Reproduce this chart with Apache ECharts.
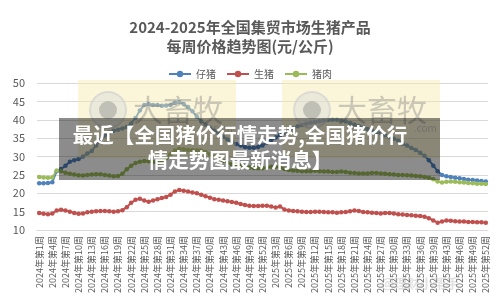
<!DOCTYPE html>
<html><head><meta charset="utf-8">
<script src="https://cdn.jsdelivr.net/npm/echarts@6/dist/echarts.min.js"></script>
<style>html,body{margin:0;padding:0;background:#fff}#c{width:500px;height:300px}</style>
</head><body><div id="c"></div>
<script>
const weeks2024 = [1,2,3,4,5,6,7,8,9,10,11,12,13,14,15,16,17,18,19,20,21,22,23,24,25,26,27,28,29,30,31,32,33,34,35,36,37,38,39,40,41,42,43,44,45,46,47,48,49,50,51,52];
const weeks2025 = [1,2,3,4,5,6,7,8,9,10,11,12,13,14,15,16,17,18,19,20,21,22,23,24,25,26,27,28,29,30,31,32,33,34,35,36,37,38,39,41,42,43,44,45,46,47,48,49,50,51,52];
const seriesNames = ['仔猪','生猪','猪肉'];
const piglet = [22.7,22.7,22.8,23.0,26.0,26.6,27.5,28.6,29.0,29.3,30.0,30.8,31.5,33.0,34.5,35.7,36.5,37.0,37.3,37.6,38.0,39.0,40.5,42.5,44.0,44.3,44.0,44.0,43.8,43.9,44.0,44.6,44.8,44.3,43.5,42.3,40.8,39.6,38.7,37.8,37.0,36.2,35.4,34.6,34.0,33.4,33.0,32.6,32.4,32.4,32.6,33.0,33.8,34.5,35.2,35.8,36.4,37.0,37.6,38.2,38.6,38.9,39.2,39.4,39.6,39.8,39.9,40.0,40.0,39.8,39.5,39.1,38.7,38.3,37.9,37.5,37.1,36.7,36.3,35.8,35.3,34.8,34.3,33.5,33.0,32.3,31.8,31.0,30.2,29.0,27.5,26.0,25.0,24.6,24.4,24.2,24.1,23.9,23.7,23.6,23.5,23.3,23.2];
const hog = [14.6,14.4,14.3,14.5,15.3,15.5,15.3,15.0,14.6,14.4,14.5,14.8,15.0,15.1,15.2,15.2,15.1,15.0,15.1,15.4,16.2,17.4,18.2,18.5,18.0,17.7,18.0,18.4,18.7,19.0,19.6,20.5,20.9,20.7,20.5,20.2,20.0,19.6,19.2,18.8,18.4,18.2,18.0,17.8,17.6,17.4,17.1,16.8,16.6,16.5,16.5,16.6,16.6,16.4,16.1,16.4,15.6,15.3,15.2,15.1,15.0,14.9,14.9,15.0,15.0,14.9,14.8,14.8,14.7,14.8,14.9,15.1,15.3,15.2,14.9,14.8,14.7,14.6,14.5,14.6,14.6,14.5,14.3,14.2,14.1,14.0,13.9,13.8,13.6,13.2,12.6,12.0,12.3,12.6,12.5,12.4,12.3,12.3,12.2,12.2,12.1,12.1,12.0];
const pork = [24.4,24.3,24.2,24.3,26.2,26.0,25.6,25.3,25.1,24.9,24.8,25.0,25.1,25.2,25.2,25.0,24.8,24.6,24.7,25.3,26.5,27.5,28.2,28.6,28.8,28.7,28.5,28.3,28.6,29.5,30.6,31.6,32.1,32.0,31.8,31.8,31.7,31.6,31.2,30.6,30.0,29.4,28.8,28.3,27.9,27.6,27.4,27.2,27.0,26.9,26.8,26.8,27.0,27.2,27.2,27.0,26.6,26.3,26.2,26.1,26.0,26.0,26.0,26.1,26.0,25.9,25.9,25.8,25.8,25.9,25.8,25.6,25.5,25.4,25.4,25.4,25.5,25.5,25.4,25.3,25.2,25.1,25.0,25.0,24.9,24.8,24.7,24.6,24.4,24.2,23.8,23.2,22.9,23.1,23.2,23.1,23.0,22.9,22.8,22.7,22.6,22.6,22.5];
const yTicks = {min:10, max:50, interval:5};
const titleText = '2024-2025年全国集贸市场生猪产品\n每周价格趋势图(元/公斤)';
const bannerLines = ['最近【全国猪价行情走势,全国猪价行','情走势图最新消息】'];

const categories = weeks2024.map(w => '2024年第' + w + '周').concat(weeks2025.map(w => '2025年第' + w + '周'));
const colors = ['#4F81BD','#C0504D','#9BBB59'];
const FONT = '"Noto Sans CJK SC", "Noto Sans", sans-serif';

function mkSeries(name, data, color) {
  return {
    name, type:'line', data, symbol:'circle', symbolSize:4.5, showSymbol:true, showAllSymbol:true,
    lineStyle:{width:2,color}, itemStyle:{color}, animation:false, z:2
  };
}

function watermark(x0, y0) {
  return [
    {type:'rect', shape:{x:x0, y:y0, width:158, height:78}, style:{fill:'rgba(246,236,170,0.45)'}, z:10, silent:true},
    {type:'circle', shape:{cx:x0+30, cy:y0+30, r:18}, style:{fill:'rgba(220,220,220,0.5)', stroke:'rgba(205,205,205,0.6)', lineWidth:2}, z:11, silent:true},
    {type:'circle', shape:{cx:x0+30, cy:y0+30, r:9}, style:{fill:'rgba(130,130,130,0.4)'}, z:12, silent:true},
    {type:'text', style:{text:'大畜牧', x:x0+55, y:y0+30, fill:'rgba(130,130,130,0.4)', font:'30px ' + FONT, textVerticalAlign:'middle'}, z:11, silent:true},
    {type:'text', style:{text:'.com', x:x0+132, y:y0+48, fill:'rgba(140,140,140,0.4)', font:'10px ' + FONT, textVerticalAlign:'middle'}, z:11, silent:true}
  ];
}

const chart = echarts.init(document.getElementById('c'), null, {renderer:'canvas'});
chart.setOption({
  animation:false,
  textStyle:{fontFamily:FONT},
  color:colors,
  title:{
    text:titleText, left:'center', top:13,
    textStyle:{fontSize:15, fontWeight:'bold', color:'#595959', lineHeight:19, fontFamily:FONT}
  },
  legend:{
    top:64, left:'center', itemWidth:22, itemHeight:8, itemGap:10,
    textStyle:{fontSize:10, color:'#595959', fontFamily:FONT},
    data:seriesNames
  },
  grid:{left:37, right:12, top:83, bottom:70},
  xAxis:{
    type:'category', data:categories, boundaryGap:true,
    axisLine:{lineStyle:{color:'#D9D9D9'}}, axisTick:{show:false},
    axisLabel:{interval:2, rotate:90, fontSize:9, color:'#595959', margin:6, fontFamily:FONT}
  },
  yAxis:{
    type:'value', min:yTicks.min, max:yTicks.max, interval:yTicks.interval,
    axisLine:{show:false}, axisTick:{show:false},
    axisLabel:{fontSize:11, color:'#595959', margin:12, fontFamily:FONT},
    splitLine:{lineStyle:{color:'#D9D9D9', width:1}}
  },
  series:[mkSeries(seriesNames[0], piglet, colors[0]), mkSeries(seriesNames[1], hog, colors[1]), mkSeries(seriesNames[2], pork, colors[2])],
  graphic:[
    ...watermark(78, 80),
    ...watermark(282, 80),
    {type:'rect', shape:{x:59, y:118, width:381, height:62}, style:{fill:'rgba(0,0,0,0.45)'}, z:20, silent:true},
    {type:'text', style:{text:bannerLines[0], x:240, y:135, fill:'#fff', font:'bold 20.5px ' + FONT, textAlign:'center', textVerticalAlign:'middle'}, z:21, silent:true},
    {type:'text', style:{text:bannerLines[1], x:240, y:160, fill:'#fff', font:'bold 20.5px ' + FONT, textAlign:'center', textVerticalAlign:'middle'}, z:21, silent:true},
    {type:'text', style:{text:'@理财小帮手', x:420, y:283, fill:'rgba(170,170,170,0.35)', font:'bold 13px ' + FONT, textAlign:'center', textVerticalAlign:'middle'}, z:21, silent:true}
  ]
});
</script></body></html>
